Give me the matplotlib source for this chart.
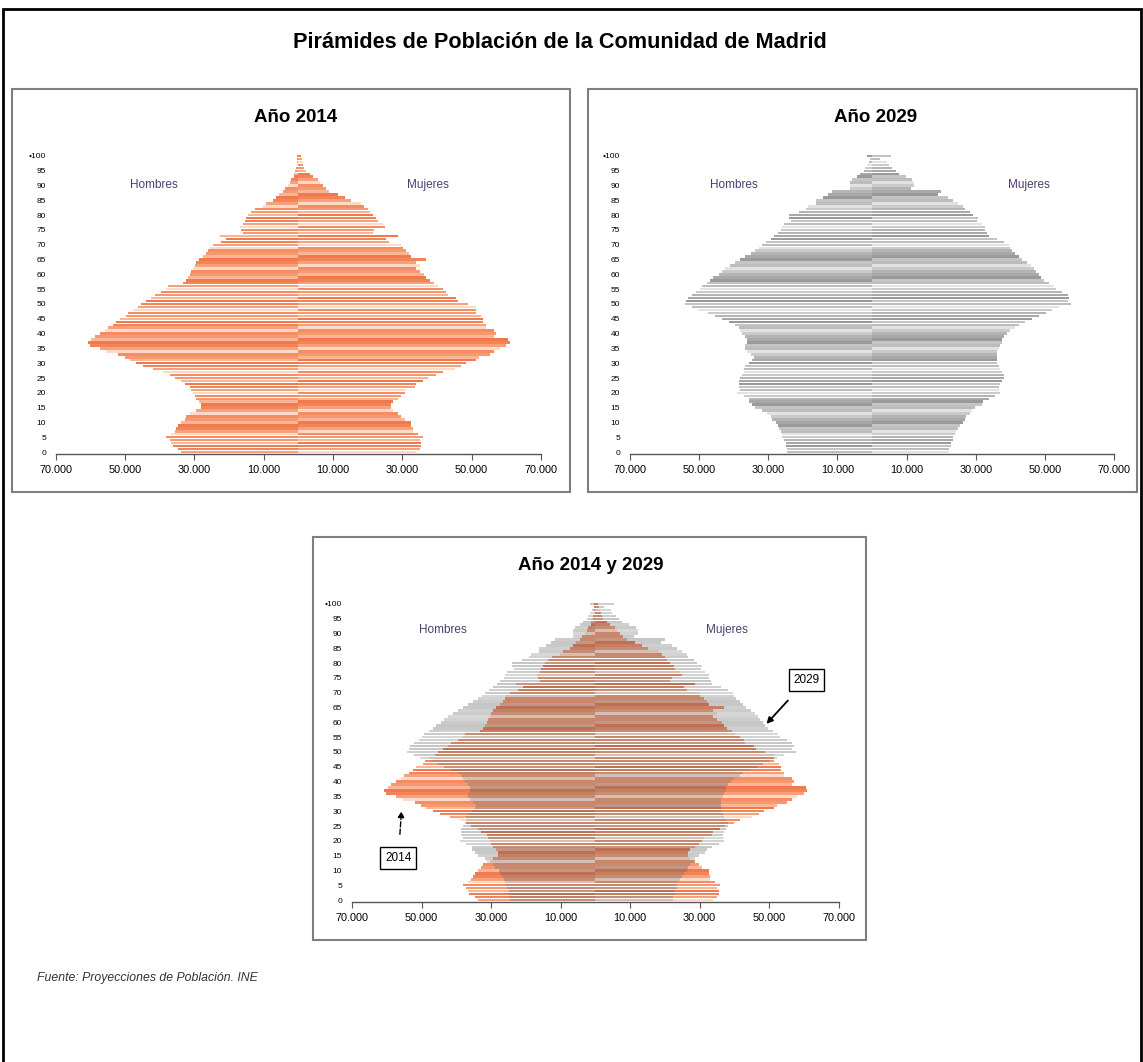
import numpy as np
import matplotlib.pyplot as plt
from matplotlib.patches import Rectangle

plt.rcParams['font.family'] = ['Liberation Sans', 'DejaVu Sans']

# Population by single age (0..100), in thousands
ages = np.arange(101)

hombres_2014 = [33.7, 34.7, 36.2, 36.6, 37.1, 38.1, 36.6, 35.7, 35.2, 34.7,
                33.7, 32.8, 32.3, 31.3, 29.4, 28.0, 28.0, 28.5, 29.4, 29.9,
                30.4, 30.9, 31.3, 32.8, 33.7, 35.7, 37.1, 39.0, 41.9, 44.8,
                46.7, 48.7, 50.1, 52.0, 55.4, 57.3, 60.2, 60.7, 59.7, 58.7,
                57.3, 55.9, 54.9, 53.5, 52.5, 51.5, 49.6, 49.1, 47.7, 46.2,
                45.3, 43.8, 42.4, 41.4, 39.5, 38.1, 37.6, 33.3, 32.3, 31.8,
                31.3, 30.9, 30.4, 29.9, 29.4, 28.5, 27.5, 26.5, 26.1, 25.6,
                24.6, 22.2, 20.8, 22.7, 16.0, 16.4, 16.9, 16.0, 15.5, 15.0,
                14.5, 13.6, 12.6, 10.2, 9.2, 7.3, 6.3, 5.6, 4.4, 3.7,
                3.0, 2.5, 2.0, 1.3, 1.1, 0.8, 0.6, 0.5, 0.4, 0.3, 0.4]

mujeres_2014 = [34.0, 35.0, 35.5, 35.5, 35.0, 36.0, 34.5, 33.1, 33.1, 32.6,
                32.6, 30.7, 29.7, 28.7, 27.3, 26.8, 26.8, 27.3, 28.7, 29.7,
                30.7, 31.2, 33.6, 34.0, 36.0, 37.4, 39.8, 41.7, 45.1, 47.0,
                48.5, 51.3, 52.3, 55.2, 56.6, 58.1, 60.0, 61.0, 60.5, 56.6,
                57.1, 56.6, 54.2, 54.2, 53.3, 53.3, 52.8, 51.3, 51.3, 51.3,
                48.9, 46.1, 45.6, 43.2, 42.7, 41.7, 40.3, 39.3, 37.9, 36.9,
                36.4, 35.0, 34.0, 35.0, 34.0, 36.9, 32.6, 32.1, 31.2, 30.2,
                29.7, 26.3, 25.4, 28.7, 21.5, 22.0, 24.9, 24.4, 23.0, 22.5,
                21.5, 20.6, 20.1, 19.1, 18.2, 15.3, 13.4, 11.4, 9.0, 8.1,
                7.1, 6.2, 5.7, 4.2, 3.3, 2.3, 1.8, 1.5, 1.3, 1.2, 0.9]

hombres_2029 = [24.6, 24.7, 24.9, 24.9, 25.4, 25.9, 25.9, 26.4, 26.8, 27.3,
                27.8, 28.8, 29.3, 30.3, 31.7, 33.7, 34.6, 35.6, 35.6, 37.1,
                39.0, 38.1, 38.6, 38.6, 38.6, 38.1, 37.6, 37.1, 37.1, 36.6,
                35.6, 34.6, 34.2, 35.1, 36.1, 36.6, 36.6, 36.1, 36.1, 36.6,
                37.6, 38.1, 38.6, 39.5, 41.5, 43.4, 45.4, 47.3, 50.3, 52.2,
                54.2, 53.7, 53.2, 52.2, 50.8, 49.8, 49.3, 47.8, 46.8, 45.9,
                44.4, 43.4, 42.5, 41.0, 39.5, 38.1, 36.6, 35.1, 33.7, 32.7,
                31.7, 30.7, 29.3, 28.3, 27.3, 26.4, 25.9, 25.4, 23.4, 23.9,
                23.9, 21.0, 19.0, 18.5, 16.1, 16.1, 14.2, 12.7, 11.7, 6.3,
                6.3, 6.3, 5.9, 4.4, 3.4, 2.4, 2.0, 1.5, 1.0, 0.5, 1.5]

mujeres_2029 = [22.4, 22.4, 22.9, 22.9, 23.4, 23.4, 23.9, 24.4, 24.9, 25.4,
                26.4, 26.8, 27.3, 28.3, 28.8, 29.8, 31.7, 32.2, 33.7, 35.6,
                37.1, 36.6, 36.6, 37.1, 37.6, 38.1, 38.1, 37.6, 37.1, 36.6,
                36.1, 36.1, 36.1, 36.1, 36.1, 36.6, 37.1, 37.6, 37.6, 38.1,
                39.0, 40.0, 41.5, 42.5, 44.4, 46.4, 48.3, 50.3, 52.2, 54.2,
                57.6, 56.6, 57.1, 56.6, 55.1, 53.2, 52.7, 51.2, 49.8, 48.8,
                48.3, 47.3, 46.8, 45.9, 44.9, 43.4, 42.5, 41.5, 40.5, 40.0,
                39.5, 38.1, 36.1, 33.7, 33.2, 32.7, 32.7, 31.7, 30.3, 30.7,
                29.3, 28.3, 26.8, 26.4, 24.9, 23.4, 22.0, 19.0, 20.0, 11.2,
                12.2, 12.2, 11.7, 9.8, 7.8, 6.8, 5.9, 4.9, 4.4, 2.4, 5.4]

xticks = [-70000, -50000, -30000, -10000, 10000, 30000, 50000, 70000]
xtick_labels = ['70.000', '50.000', '30.000', '10.000', '10.000', '30.000', '50.000', '70.000']
yticks = list(range(0, 101, 5))
ytick_labels = [str(v) for v in yticks[:-1]] + ['\u2022100']

naranjas = ['#f7a07a', '#f58c62', '#f9b596', '#f28459', '#fcd9c8', '#f69872', '#ee7a4e']
grises = ['#bdbdbd', '#cacaca', '#a8a8a8', '#c4c4c4', '#e2e2e2', '#b4b4b4', '#9a9a9a']
grises_osc = ['#6a6a6a', '#7e7e7e', '#5e5e5e', '#767676', '#8e8e8e', '#6e6e6e', '#626262']

W, H = 1143, 1062


def px(x, y):
    return x / W, 1 - y / H


def colores(pal, shift):
    return [pal[(i * 3 + shift) % len(pal)] for i in range(len(ages))]


def barras(ax, hombres, mujeres, pal, alpha=1.0):
    h = -np.array(hombres) * 1000
    m = np.array(mujeres) * 1000
    ax.barh(ages, h, height=0.82, color=colores(pal, 0), alpha=alpha, linewidth=0)
    ax.barh(ages, m, height=0.82, color=colores(pal, 4), alpha=alpha, linewidth=0)


def estilo(ax, xh, xm, ytxt):
    ax.set_xlim(-70000, 70000)
    ax.set_ylim(-0.7, 100.7)
    ax.set_xticks(xticks)
    ax.set_xticklabels(xtick_labels, fontsize=7.8)
    ax.set_yticks(yticks)
    ax.set_yticklabels(ytick_labels, fontsize=6)
    ax.tick_params(axis='y', length=0, pad=7)
    ax.tick_params(axis='x', direction='out', length=4, color='#555555', pad=4)
    for s in ['top', 'right', 'left']:
        ax.spines[s].set_visible(False)
    ax.spines['bottom'].set_color('#555555')
    ax.spines['bottom'].set_linewidth(1.0)
    ax.text(xh, ytxt, 'Hombres', color='#4e3d6e', fontsize=8.5, ha='center', va='center')
    ax.text(xm, ytxt, 'Mujeres', color='#4e3d6e', fontsize=8.5, ha='center', va='center')


fig = plt.figure(figsize=(W / 100, H / 100), dpi=100)

# outer frame and panel frames
x0, y0 = px(3, 1075)
x1, y1 = px(1141, 9)
fig.add_artist(Rectangle((x0, y0), x1 - x0, y1 - y0, transform=fig.transFigure,
                         fill=False, edgecolor='black', linewidth=2))
for (a, b, c, d) in [(12, 89, 570, 492), (588, 89, 1137, 492), (313, 537, 866, 940)]:
    xa, ya = px(a, d)
    xb, yb = px(c, b)
    fig.add_artist(Rectangle((xa, ya), xb - xa, yb - ya, transform=fig.transFigure,
                             fill=False, edgecolor='#7f7f7f', linewidth=1.5))

fig.text(*px(560, 42), 'Pirámides de Población de la Comunidad de Madrid',
         fontsize=15.6, fontweight='bold', ha='center', va='center')
fig.text(*px(296, 117), 'Año 2014', fontsize=13.5, fontweight='bold', ha='center', va='center')
fig.text(*px(876, 117), 'Año 2029', fontsize=13.5, fontweight='bold', ha='center', va='center')
fig.text(*px(591, 565), 'Año 2014 y 2029', fontsize=13.5, fontweight='bold', ha='center', va='center')
fig.text(*px(37, 978), 'Fuente: Proyecciones de Población. INE', fontsize=8.8,
         style='italic', color='#333333', ha='left', va='center')

# panel 1: 2014
ax1 = fig.add_axes([55.7 / W, (H - 454.1) / H, 485.1 / W, 300.2 / H])
barras(ax1, hombres_2014, mujeres_2014, naranjas)
estilo(ax1, -41800, 37500, 90.2)

# panel 2: 2029
ax2 = fig.add_axes([630 / W, (H - 454.1) / H, 484 / W, 300.2 / H])
barras(ax2, hombres_2029, mujeres_2029, grises)
estilo(ax2, -39900, 45400, 90.2)

# panel 3: both years
ax3 = fig.add_axes([352 / W, (H - 902.1) / H, 486.6 / W, 300.2 / H])
barras(ax3, hombres_2014, mujeres_2014, naranjas)
barras(ax3, hombres_2029, mujeres_2029, grises_osc, alpha=0.35)
estilo(ax3, -43900, 37900, 91.3)

caja = dict(boxstyle='square,pad=0.4', facecolor='white', edgecolor='black', linewidth=1)
ax3.annotate('2029', xy=(48700, 58.8), xytext=(60800, 74.3), fontsize=8.5,
             ha='center', va='center', bbox=caja,
             arrowprops=dict(arrowstyle='-|>', color='black', lw=1.3,
                             mutation_scale=9, shrinkA=9))
ax3.annotate('2014', xy=(-55700, 31), xytext=(-56700, 14.2), fontsize=8.5,
             ha='center', va='center', bbox=caja,
             arrowprops=dict(arrowstyle='-|>', color='black', lw=1.0, ls='--',
                             mutation_scale=9, shrinkA=9))

fig.savefig('out.png', dpi=100)
